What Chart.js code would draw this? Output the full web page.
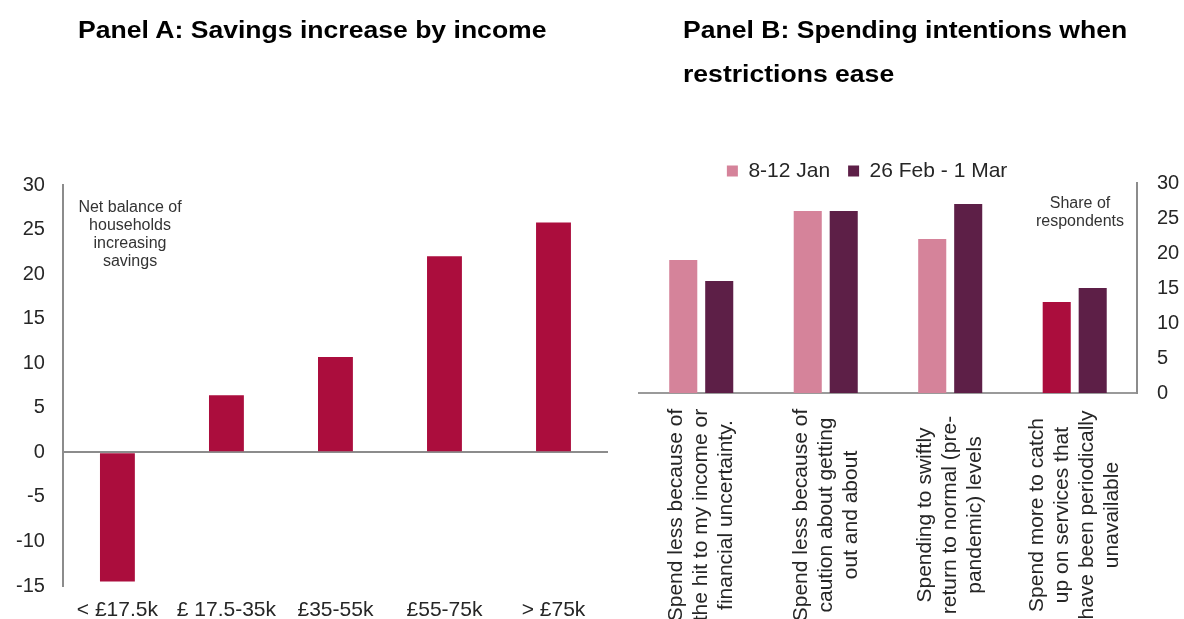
<!DOCTYPE html>
<html><head><meta charset="utf-8">
<script src="https://cdn.jsdelivr.net/npm/chart.js@4.4.1/dist/chart.umd.min.js"></script>
<style>
html,body{margin:0;padding:0;width:1184px;height:619px;overflow:hidden;background:#fff;font-family:'Liberation Sans',Arial,sans-serif;}
body{position:relative;}
canvas{position:absolute;top:0;}
#cA{left:-10px;width:630px;height:640px;}
#cB{left:620px;width:584px;height:640px;}
.title{position:absolute;z-index:2;font-weight:bold;font-size:23px;color:#000;white-space:nowrap;transform-origin:0 0;transform:scaleX(1.155);}
.note{position:absolute;z-index:2;font-size:16px;color:#333;text-align:center;}
</style></head><body>
<canvas id="cA" width="630" height="640"></canvas>
<canvas id="cB" width="584" height="640"></canvas>
<div class="title" style="left:78px;top:18.5px;line-height:23px">Panel A: Savings increase by income</div>
<div class="title" style="left:683px;top:7.7px;line-height:44.7px">Panel B: Spending intentions when<br>restrictions ease</div>
<div class="note" style="left:30px;width:200px;top:197.6px;line-height:18.2px">Net balance of<br>households<br>increasing<br>savings</div>
<div class="note" style="left:1000px;width:160px;top:194px;line-height:17.5px">Share of<br>respondents</div>
<script>
// ---- Panel A data ----
const incomeBands = ['< £17.5k', '£ 17.5-35k', '£35-55k', '£55-75k', '> £75k'];
const savingsBalance = [-14.5, 6.4, 10.7, 22.0, 25.8];
const panelAMin = -15, panelAMax = 30, panelAStep = 5;

// ---- Panel B data ----
const intentionLabels = [
  ['Spend less because of', 'the hit to my income or', 'financial uncertainty.'],
  ['Spend less because of', 'caution about getting', 'out and about'],
  ['Spending to swiftly', 'return to normal (pre-', 'pandemic) levels'],
  ['Spend more to catch', 'up on services that', 'have been periodically', 'unavailable']
];
const seriesNames = ['8-12 Jan', '26 Feb - 1 Mar'];
const janShares = [19, 26, 22, 13];
const febMarShares = [16, 26, 27, 15];
const panelBMin = 0, panelBMax = 30, panelBStep = 5;

const CRIMSON = '#AB0D3D', PINK = '#D5839A', PLUM = '#5D1F47';
const AXIS_GREY = '#8c8c8c', TEXT = '#262626';
Chart.defaults.font.family = "'Liberation Sans', Arial, sans-serif";
Chart.defaults.color = TEXT;

new Chart(document.getElementById('cA'), {
  type: 'bar',
  data: { labels: incomeBands, datasets: [{ data: savingsBalance, backgroundColor: CRIMSON, borderWidth: 0, categoryPercentage: 0.8, barPercentage: 0.4 }] },
  options: {
    responsive: false, animation: false, devicePixelRatio: 1,
    layout: { padding: { top: 185, left: 8, right: 12, bottom: 6 } },
    plugins: { legend: { display: false }, tooltip: { enabled: false } },
    scales: {
      x: { grid: { display: false, drawTicks: false }, border: { display: false },
           ticks: { padding: 11.4, font: { size: 21 }, color: TEXT, maxRotation: 0, minRotation: 0, autoSkip: false } },
      y: { min: panelAMin, max: panelAMax,
           ticks: { stepSize: panelAStep, padding: 18, font: { size: 20 }, color: TEXT },
           grid: { drawTicks: false, lineWidth: 2, color: c => (c.tick && c.tick.value === 0) ? AXIS_GREY : 'rgba(0,0,0,0)' },
           border: { display: true, color: AXIS_GREY, width: 2 } }
    }
  }
});

const legendShift = { id: 'legendShift', afterLayout(chart) {
  const l = chart.legend; if (!l) return;
  l.left -= 52; l.right -= 52; l.top += 8.5; l.bottom += 8.5;
}};

const rotatedLabels = { id: 'rotatedLabels', afterDraw(chart) {
  const { ctx, chartArea } = chart; const xs = chart.scales.x;
  ctx.save();
  ctx.font = "21px 'Liberation Sans', Arial, sans-serif";
  ctx.fillStyle = TEXT; ctx.textAlign = 'center'; ctx.textBaseline = 'middle';
  chart.data.labels.forEach((lines, i) => {
    const cx = xs.getPixelForValue(i); const n = lines.length;
    lines.forEach((t, j) => {
      ctx.save();
      ctx.translate(cx + (j - (n - 1) / 2) * 25, chartArea.bottom + 122);
      ctx.rotate(-Math.PI / 2);
      ctx.fillText(t, 0, 0);
      ctx.restore();
    });
  });
  ctx.restore();
}};

new Chart(document.getElementById('cB'), {
  type: 'bar',
  data: { labels: intentionLabels, datasets: [
    { label: seriesNames[0], data: janShares, backgroundColor: c => c.dataIndex === 3 ? CRIMSON : PINK, borderWidth: 0, categoryPercentage: 0.578, barPercentage: 0.78 },
    { label: seriesNames[1], data: febMarShares, backgroundColor: PLUM, borderWidth: 0, categoryPercentage: 0.578, barPercentage: 0.78 }
  ]},
  options: {
    responsive: false, animation: false, devicePixelRatio: 1,
    layout: { padding: { top: 134, left: 19, right: 4.8, bottom: 247 } },
    plugins: {
      legend: { display: true, position: 'top', labels: { boxWidth: 11, boxHeight: 11, padding: 18, font: { size: 21 }, color: TEXT } },
      tooltip: { enabled: false }
    },
    scales: {
      x: { ticks: { display: false }, grid: { display: false, drawTicks: false }, border: { display: true, color: '#9a9a9a', width: 2 } },
      y: { position: 'right', min: panelBMin, max: panelBMax,
           ticks: { stepSize: panelBStep, padding: 20, font: { size: 20 }, color: TEXT },
           grid: { display: false, drawTicks: false },
           border: { display: true, color: AXIS_GREY, width: 2 } }
    }
  },
  plugins: [legendShift, rotatedLabels]
});
</script>
</body></html>
